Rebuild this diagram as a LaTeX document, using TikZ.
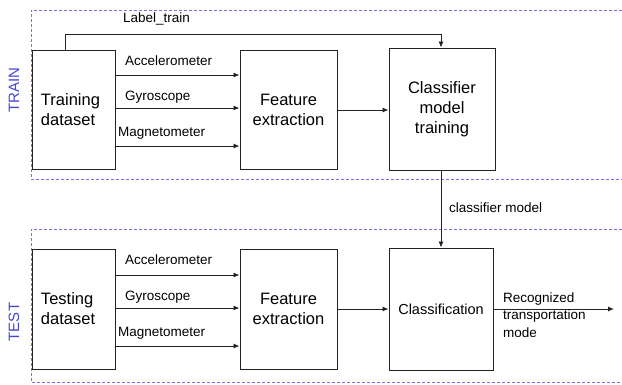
\documentclass[tikz,border=0pt]{standalone}
\usepackage{fontspec}
\setmainfont{Liberation Sans}
\usetikzlibrary{arrows.meta}
\definecolor{phaseblue}{RGB}{70,70,215}
\definecolor{dashblue}{RGB}{115,115,230}
\definecolor{lineg}{RGB}{35,35,35}
\begin{document}
\begin{tikzpicture}[x=1pt,y=-1pt,
  box/.style={draw=lineg,line width=1pt,inner sep=0pt,align=center,
    font=\fontsize{16.5}{20}\selectfont},
  dsbox/.style={box,align=left,inner xsep=9pt,text width=65.5pt},
  lbl/.style={inner sep=0pt,anchor=base west,font=\fontsize{13.5}{17.7}\selectfont},
  arr/.style={draw=lineg,line width=0.9pt,-{Latex[length=6pt,width=5pt]}},
  phase/.style={dashblue,line width=0.9pt,dash pattern=on 3pt off 2pt},
  phaselbl/.style={inner sep=0pt,rotate=90,text=phaseblue,font=\fontsize{15}{18}\selectfont}]
\useasboundingbox (0,0) rectangle (622,384);
% phase frames
\draw[phase] (622,10) -- (31,10) -- (31,179) -- (622,179);
\draw[phase] (622,229) -- (31,229) -- (31,382) -- (622,382);
\node[phaselbl] (trainlbl) at (14,90) {TRAIN};
\node[phaselbl] (testlbl) at (14,322) {TEST};
% train boxes
\node[dsbox,minimum width=83.5pt,minimum height=119pt] (trd) at (73.75,109.5) {Training\\dataset};
\node[box,minimum width=97pt,minimum height=119pt] (fe1) at (288.5,109.5) {Feature\\extraction};
\node[box,minimum width=106pt,minimum height=122pt] (cmt) at (442,109) {Classifier\\model\\training};
% test boxes
\node[dsbox,minimum width=83.5pt,minimum height=120pt] (ted) at (73.75,309) {Testing\\dataset};
\node[box,minimum width=97pt,minimum height=120pt] (fe2) at (288.5,309) {Feature\\extraction};
\node[box,minimum width=104pt,minimum height=122pt,font=\fontsize{14.5}{18}\selectfont] (cls) at (441,309) {Classification};
% train arrows
\draw[arr] (trd.east |- 0,75) -- (fe1.west |- 0,75);
\draw[arr] (trd.east |- 0,108) -- (fe1.west |- 0,108);
\draw[arr] (trd.east |- 0,146) -- (fe1.west |- 0,146);
\draw[arr] (fe1.east |- 0,110) -- (cmt.west |- 0,110);
\draw[arr] (trd.north -| 65,0) -- (65,34) -- (441,34) -- (cmt.north -| 441,0);
\node[lbl] (lt) at (123,22.7) {Label\_train};
\node[lbl] (a1) at (125,65) {Accelerometer};
\node[lbl] (g1) at (125,100) {Gyroscope};
\node[lbl] (m1) at (118,136.5) {Magnetometer};
% link
\draw[arr] (cmt.south -| 441,0) -- (cls.north -| 441,0);
\node[lbl] (cm) at (449,212) {classifier model};
% test arrows
\draw[arr] (ted.east |- 0,275) -- (fe2.west |- 0,275);
\draw[arr] (ted.east |- 0,308) -- (fe2.west |- 0,308);
\draw[arr] (ted.east |- 0,346) -- (fe2.west |- 0,346);
\draw[arr] (fe2.east |- 0,309) -- (cls.west |- 0,309);
\coordinate (out) at (614,309);
\draw[arr] (cls.east |- 0,309) -- (out);
\node[lbl] (a2) at (125,264) {Accelerometer};
\node[lbl] (g2) at (125,300) {Gyroscope};
\node[lbl] (m2) at (118,336.5) {Magnetometer};
\node[inner sep=0pt,anchor=west,align=left,font=\fontsize{13.5}{17.7}\selectfont] (rtm) at (503,315) {Recognized\\transportation\\mode};
\end{tikzpicture}
\end{document}
